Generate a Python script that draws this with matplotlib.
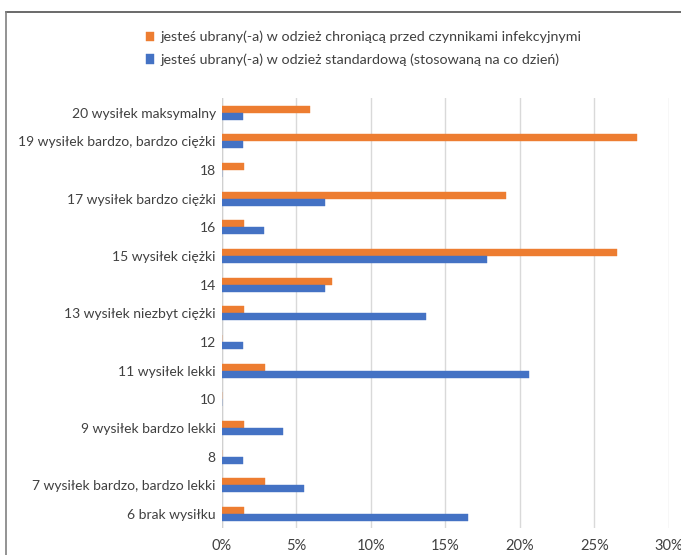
import numpy as np
import matplotlib.pyplot as plt
from matplotlib.lines import Line2D
from matplotlib.ticker import FuncFormatter

# effort scale, listed bottom to top
categories = ["6 brak wysiłku", "7 wysiłek bardzo, bardzo lekki", "8",
              "9 wysiłek bardzo lekki", "10", "11 wysiłek lekki", "12",
              "13 wysiłek niezbyt ciężki", "14", "15 wysiłek ciężki", "16",
              "17 wysiłek bardzo ciężki", "18", "19 wysiłek bardzo, bardzo ciężki",
              "20 wysiłek maksymalny"]
protective = [1.5, 2.9, 0, 1.5, 0, 2.9, 0, 1.5, 7.4, 26.5, 1.5, 19.1, 1.5, 27.9, 5.9]
standard = [16.5, 5.5, 1.4, 4.1, 0, 20.6, 1.4, 13.7, 6.9, 17.8, 2.8, 6.9, 0, 1.4, 1.4]
label_prot = "jesteś ubrany(-a) w odzież chroniącą przed czynnikami infekcyjnymi"
label_std = "jesteś ubrany(-a) w odzież standardową (stosowaną na co dzień)"

plt.rcParams['font.family'] = ['Lato', 'DejaVu Sans']
txt = '#404040'
orange = '#ED7D31'
blue = '#4472C4'

fig = plt.figure(figsize=(6.81, 5.55), dpi=100)
ax = fig.add_axes([0.326, 0.048, 0.656, 0.775])

y = np.arange(len(categories))
h = 0.245
ax.barh(y + h / 2, protective, height=h, color=orange, edgecolor=orange, linewidth=0.3,
        label=label_prot, zorder=3)
ax.barh(y - h / 2, standard, height=h, color=blue, edgecolor=blue, linewidth=0.3,
        label=label_std, zorder=3)

ax.set_xlim(0, 30)
ax.set_ylim(-0.5, len(categories) - 0.5)
ax.set_xticks(range(0, 31, 5))
ax.xaxis.set_major_formatter(FuncFormatter(lambda v, p: '%d%%' % v))
ax.set_yticks(y)
ax.set_yticklabels(categories)
ax.tick_params(axis='both', length=0, labelsize=10, colors=txt)
ax.tick_params(axis='y', pad=4.5)
ax.tick_params(axis='x', labelsize=10.5, pad=8)
ax.grid(axis='x', color='#d9d9d9', linewidth=1, zorder=0)
for s in ax.spines.values():
    s.set_visible(False)
ax.axvline(0, color='#d0d0d0', linewidth=1, zorder=2)

handles, labels = ax.get_legend_handles_labels()
fig.legend(handles, labels, loc='upper left', bbox_to_anchor=(0.195, 0.968),
           frameon=False, fontsize=10.3, labelcolor=txt, handlelength=0.6,
           handleheight=0.6, handletextpad=0.4, labelspacing=0.72)

# outer frame
fig.add_artist(Line2D([6 / 681, 1], [1 - 12 / 555, 1 - 12 / 555], color='#505050', lw=1.2))
fig.add_artist(Line2D([6 / 681, 6 / 681], [0, 1 - 12 / 555], color='#808080', lw=1.2))

fig.savefig('out.png', dpi=100)
